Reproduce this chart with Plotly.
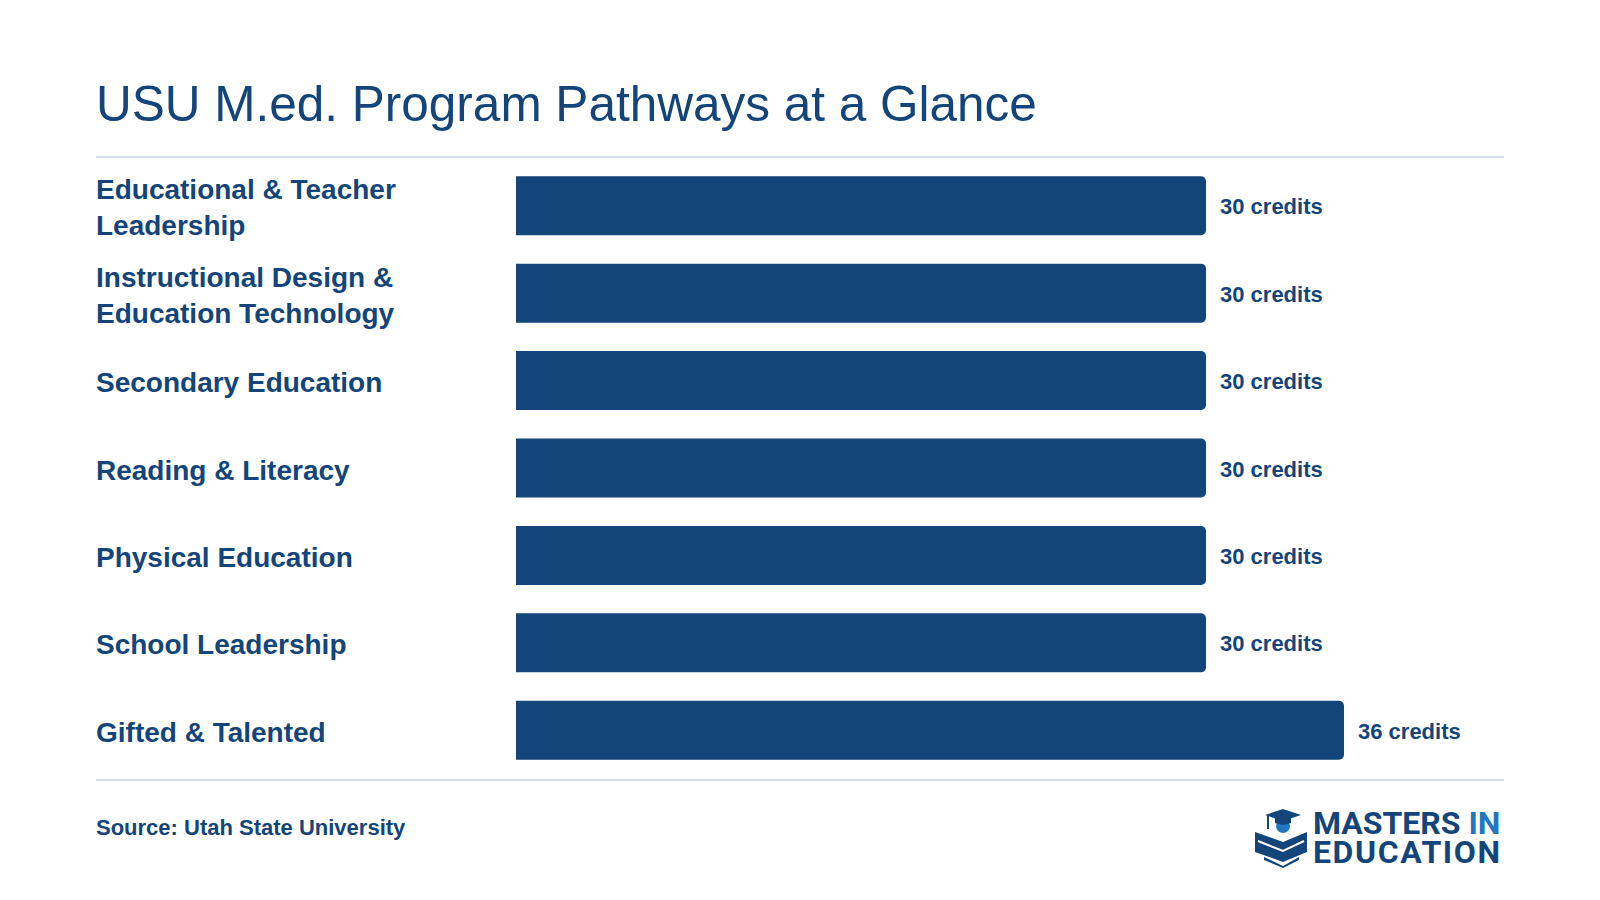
import plotly.graph_objects as go

# ---------------- data ----------------
programs = [
    "Educational & Teacher Leadership",
    "Instructional Design & Education Technology",
    "Secondary Education",
    "Reading & Literacy",
    "Physical Education",
    "School Leadership",
    "Gifted & Talented",
]
program_labels = [
    "Educational & Teacher<br>Leadership",
    "Instructional Design &<br>Education Technology",
    "Secondary Education",
    "Reading & Literacy",
    "Physical Education",
    "School Leadership",
    "Gifted & Talented",
]
credits = [30, 30, 30, 30, 30, 30, 36]
value_labels = [f"{c} credits" for c in credits]

title_text = "USU M.ed. Program Pathways at a Glance"
source_text = "Source: Utah State University"

# ---------------- layout constants ----------------
W, H = 1600, 900
L, R, T, B = 516, 95, 162, 126
PW, PH = W - L - R, H - T - B
NAVY = "#13457a"
LIGHT = "#1f78c1"
RULE = "#d5dee8"
FONT = "Liberation Sans, Arial, Helvetica, sans-serif"
LOGO_FONT = "Roboto, Liberation Sans, sans-serif"


def px(x):
    return (x - L) / PW


def py(y):
    return (H - B - y) / PH


def path(points, close=True):
    s = "M " + " L ".join(f"{px(x):.5f},{py(y):.5f}" for x, y in points)
    return s + (" Z" if close else "")


fig = go.Figure(
    go.Bar(
        x=credits,
        y=programs,
        orientation="h",
        width=0.675,
        marker=dict(color=NAVY, line=dict(width=0)),
        hoverinfo="skip",
    )
)

annotations = []
# category labels (left aligned)
for p, lab in zip(programs, program_labels):
    annotations.append(dict(
        x=px(94), xref="paper", y=p, yref="y", text=lab, showarrow=False,
        xanchor="left", yanchor="middle", align="left", yshift=-2,
        font=dict(family=FONT, size=28, color=NAVY, weight="bold"),
    ))
# value labels
for p, c, v in zip(programs, credits, value_labels):
    annotations.append(dict(
        x=c, xref="x", y=p, yref="y", text=v, showarrow=False,
        xanchor="left", yanchor="middle", xshift=12, yshift=-1,
        font=dict(family=FONT, size=22, color=NAVY, weight="bold"),
    ))
# title
annotations.append(dict(
    x=px(94), xref="paper", y=py(104), yref="paper", text=title_text,
    showarrow=False, xanchor="left", yanchor="middle",
    font=dict(family=FONT, size=49.5, color=NAVY),
))
# source
annotations.append(dict(
    x=px(94), xref="paper", y=py(827), yref="paper", text=source_text,
    showarrow=False, xanchor="left", yanchor="middle",
    font=dict(family=FONT, size=22, color=NAVY, weight="bold"),
))
# logo text (one block, tight line spacing from the small base size)
annotations.append(dict(
    x=px(1311), xref="paper", y=py(837), yref="paper",
    text=(f"<span style='font-size:32px'>MASTERS <span style='color:{LIGHT}'>IN</span></span>"
          f"<br><span style='font-size:32px;letter-spacing:1.6px'>EDUCATION</span>"),
    showarrow=False, xanchor="left", yanchor="middle", align="left",
    font=dict(family=LOGO_FONT, size=22, color=NAVY, weight="bold"),
))

shapes = [
    dict(type="line", xref="paper", yref="paper", x0=px(96), x1=px(1504), y0=py(157), y1=py(157),
         line=dict(color=RULE, width=2)),
    dict(type="line", xref="paper", yref="paper", x0=px(96), x1=px(1504), y0=py(780), y1=py(780),
         line=dict(color=RULE, width=2)),
    # logo icon: book
    dict(type="path", xref="paper", yref="paper",
         path=path([(1255, 832), (1283, 842), (1307, 832), (1307, 852), (1283, 862), (1255, 852)]),
         fillcolor=NAVY, line=dict(width=0)),
    dict(type="path", xref="paper", yref="paper",
         path=path([(1258, 841), (1283, 851), (1304, 841)], close=False),
         line=dict(color="white", width=2)),
    dict(type="path", xref="paper", yref="paper",
         path=path([(1264, 857), (1283, 866), (1299, 857), (1299, 860), (1283, 868), (1264, 860)]),
         fillcolor=NAVY, line=dict(width=0)),
    # head
    dict(type="circle", xref="paper", yref="paper", x0=px(1276), x1=px(1290), y0=py(833), y1=py(819),
         fillcolor=LIGHT, line=dict(width=0)),
    # cap band
    dict(type="path", xref="paper", yref="paper",
         path=path([(1275, 817), (1291, 817), (1291, 823), (1283, 825), (1275, 823)]),
         fillcolor=NAVY, line=dict(width=0)),
    # mortarboard
    dict(type="path", xref="paper", yref="paper",
         path=path([(1265, 815), (1283, 809), (1301, 815), (1283, 821)]),
         fillcolor=NAVY, line=dict(width=0)),
    # tassel
    dict(type="line", xref="paper", yref="paper", x0=px(1268), x1=px(1268), y0=py(815), y1=py(829),
         line=dict(color=NAVY, width=2)),
]

fig.update_layout(
    width=W, height=H,
    margin=dict(l=L, r=R, t=T, b=B, pad=0),
    paper_bgcolor="white", plot_bgcolor="white",
    barcornerradius=5,
    showlegend=False,
    xaxis=dict(range=[0, 43], visible=False, fixedrange=True),
    yaxis=dict(type="category", categoryorder="array", categoryarray=programs,
               range=[6.5, -0.5], visible=False, fixedrange=True),
    annotations=annotations,
    shapes=shapes,
)

fig.write_html("out.html")
